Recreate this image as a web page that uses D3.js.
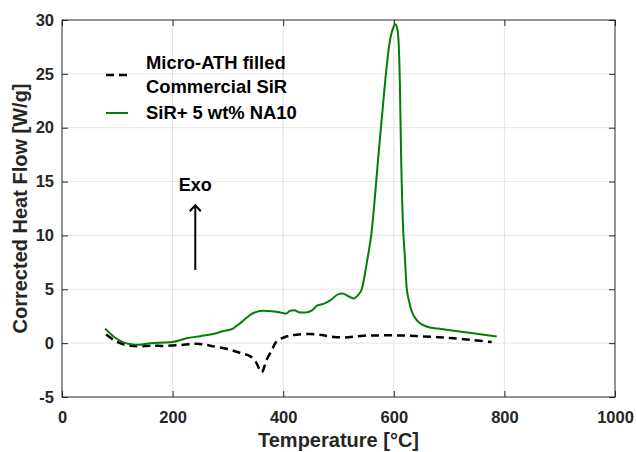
<!DOCTYPE html>
<html>
<head>
<meta charset="utf-8">
<script src="https://cdn.jsdelivr.net/npm/d3@7"></script>
<style>
  body { margin: 0; background: #fff; }
  text { font-family: "Liberation Sans", Arial, sans-serif; font-weight: bold; }
</style>
</head>
<body>
<div id="chart"></div>
<script>
// Series: [temperature °C, heat flow W/g]
const athSiR = [
  [80, 0.8], [95, 0.25], [111, -0.1], [125, -0.25], [138, -0.3], [160, -0.25],
  [189, -0.25], [220, -0.15], [244, -0.05], [260, -0.15], [274, -0.3], [295, -0.5],
  [310, -0.7], [325, -0.95], [340, -1.2], [350, -1.7], [361, -2.7], [370, -1.55],
  [380, -0.6], [388, 0.16], [400, 0.5], [412, 0.69], [424, 0.78], [448, 0.84],
  [470, 0.75], [485, 0.62], [512, 0.53], [545, 0.69], [575, 0.72], [605, 0.72],
  [630, 0.68], [653, 0.62], [680, 0.55], [702, 0.47], [740, 0.3], [777, 0.1]
];
const na10SiR = [
  [78, 1.35], [95, 0.55], [110, 0.1], [125, -0.1], [138, -0.15], [160, 0.0],
  [185, 0.05], [200, 0.1], [225, 0.45], [250, 0.65], [273, 0.85], [290, 1.1],
  [309, 1.35], [322, 1.85], [335, 2.4], [346, 2.8], [364, 3.0], [380, 2.95],
  [395, 2.85], [406, 2.75], [412, 3.0], [420, 3.05], [430, 2.85], [440, 2.85],
  [452, 3.05], [462, 3.5], [473, 3.65], [485, 3.97], [500, 4.55], [507, 4.6],
  [518, 4.35], [527, 4.15], [536, 4.5], [542, 5.0], [551, 7.4], [560, 10.4],
  [572, 17.3], [584, 24.1], [590, 27.0], [595, 28.6], [599, 29.3], [603, 29.6], [607, 29.0],
  [611, 24.1], [613, 18], [617, 10.5], [620, 8.0], [623, 5.3], [628, 3.8],
  [632, 3.0], [644, 2.0], [659, 1.55], [680, 1.35], [702, 1.2], [740, 0.95], [786, 0.62]
];
const xTicks = [0, 200, 400, 600, 800, 1000];
const yTicks = [-5, 0, 5, 10, 15, 20, 25, 30];
const legendLabels = [["Micro-ATH filled", "Commercial SiR"], ["SiR+ 5 wt% NA10"]];
const exoArrow = { x: 241, from: 6.8, to: 12.8, label: "Exo", labelY: 14.1 };

const width = 637, height = 452;
const marginTop = 20, marginRight = 22, marginBottom = 55, marginLeft = 62;
const axisColor = "#262626";

const x = d3.scaleLinear().domain([0, 1000]).range([marginLeft, width - marginRight]);
const y = d3.scaleLinear().domain([-5, 30]).range([height - marginBottom, marginTop]);

const svg = d3.select("#chart").append("svg")
    .attr("width", width)
    .attr("height", height)
    .attr("viewBox", [0, 0, width, height]);

// grid lines
svg.append("g")
    .selectAll("line")
    .data(xTicks.slice(1, -1))
    .join("line")
      .attr("x1", d => x(d)).attr("x2", d => x(d))
      .attr("y1", marginTop).attr("y2", height - marginBottom)
      .attr("stroke", "#e2e2e2");
svg.append("g")
    .selectAll("line")
    .data(yTicks.slice(1, -1))
    .join("line")
      .attr("x1", marginLeft).attr("x2", width - marginRight)
      .attr("y1", d => y(d)).attr("y2", d => y(d))
      .attr("stroke", "#e6e6e6");

// axes with inward ticks
const tick = 6;
const fmt = d => String(d);
svg.append("g")
    .attr("transform", `translate(0,${height - marginBottom})`)
    .call(d3.axisBottom(x).tickValues(xTicks).tickFormat(fmt).tickSize(-tick).tickPadding(14))
    .call(g => g.select(".domain").remove())
    .call(g => g.selectAll("line").attr("stroke", axisColor))
    .call(g => g.selectAll("text").attr("fill", axisColor).attr("font-size", 16.5));
svg.append("g")
    .attr("transform", `translate(0,${marginTop})`)
    .call(d3.axisTop(x).tickValues(xTicks).tickSize(-tick).tickFormat(""))
    .call(g => g.select(".domain").remove())
    .call(g => g.selectAll("line").attr("stroke", axisColor));
svg.append("g")
    .attr("transform", `translate(${marginLeft},0)`)
    .call(d3.axisLeft(y).tickValues(yTicks).tickFormat(fmt).tickSize(-tick).tickPadding(8))
    .call(g => g.select(".domain").remove())
    .call(g => g.selectAll("line").attr("stroke", axisColor))
    .call(g => g.selectAll("text").attr("fill", axisColor).attr("font-size", 16.5));
svg.append("g")
    .attr("transform", `translate(${width - marginRight},0)`)
    .call(d3.axisRight(y).tickValues(yTicks).tickSize(-tick).tickFormat(""))
    .call(g => g.select(".domain").remove())
    .call(g => g.selectAll("line").attr("stroke", axisColor));

svg.append("rect")
    .attr("x", marginLeft).attr("y", marginTop)
    .attr("width", width - marginLeft - marginRight)
    .attr("height", height - marginTop - marginBottom)
    .attr("fill", "none").attr("stroke", axisColor);

// axis titles
svg.append("text")
    .attr("x", (marginLeft + width - marginRight) / 2)
    .attr("y", 447)
    .attr("text-anchor", "middle")
    .attr("font-size", 20)
    .attr("fill", axisColor)
    .text("Temperature [°C]");
svg.append("text")
    .attr("transform", `translate(27,${(marginTop + height - marginBottom) / 2}) rotate(-90)`)
    .attr("text-anchor", "middle")
    .attr("font-size", 20)
    .attr("fill", axisColor)
    .text("Corrected Heat Flow [W/g]");

// curves
const blackLine = d3.line()
    .x(d => x(d[0]))
    .y(d => y(d[1]))
    .curve(d3.curveCatmullRom);
const greenLine = d3.line()
    .x(d => x(d[0]))
    .y(d => y(d[1]))
    .curve(d3.curveMonotoneX);

svg.append("path")
    .datum(athSiR)
    .attr("fill", "none")
    .attr("stroke", "#000")
    .attr("stroke-width", 2.5)
    .attr("stroke-dasharray", "8,5")
    .attr("d", blackLine);

svg.append("path")
    .datum(na10SiR)
    .attr("fill", "none")
    .attr("stroke", "#008000")
    .attr("stroke-width", 2)
    .attr("d", greenLine);

// Exo arrow
svg.append("line")
    .attr("x1", x(exoArrow.x)).attr("x2", x(exoArrow.x))
    .attr("y1", y(exoArrow.from)).attr("y2", y(exoArrow.to))
    .attr("stroke", "#000").attr("stroke-width", 2);
svg.append("path")
    .attr("d", `M${x(exoArrow.x) - 5.5},${y(exoArrow.to) + 6}L${x(exoArrow.x)},${y(exoArrow.to)}L${x(exoArrow.x) + 5.5},${y(exoArrow.to) + 6}`)
    .attr("fill", "none").attr("stroke", "#000").attr("stroke-width", 2);
svg.append("text")
    .attr("x", x(exoArrow.x)).attr("y", y(exoArrow.labelY))
    .attr("text-anchor", "middle")
    .attr("font-size", 18)
    .attr("fill", "#000")
    .text(exoArrow.label);

// legend
const legend = svg.append("g");
const legendItems = [
  { lines: legendLabels[0], color: "#000", dash: "8,5", width: 2.5, y: 75 },
  { lines: legendLabels[1], color: "#008000", dash: null, width: 2, y: 113 }
];
legendItems.forEach(item => {
  legend.append("line")
      .attr("x1", 106).attr("x2", 128)
      .attr("y1", item.y).attr("y2", item.y)
      .attr("stroke", item.color)
      .attr("stroke-width", item.width)
      .attr("stroke-dasharray", item.dash);
  const t = legend.append("text")
      .attr("x", 146)
      .attr("y", item.y + 6 - (item.lines.length - 1) * 12)
      .attr("font-size", 18.4)
      .attr("fill", "#000");
  item.lines.forEach((s, i) => {
    t.append("tspan").attr("x", 146).attr("dy", i === 0 ? 0 : 24).text(s);
  });
});
</script>
</body>
</html>
